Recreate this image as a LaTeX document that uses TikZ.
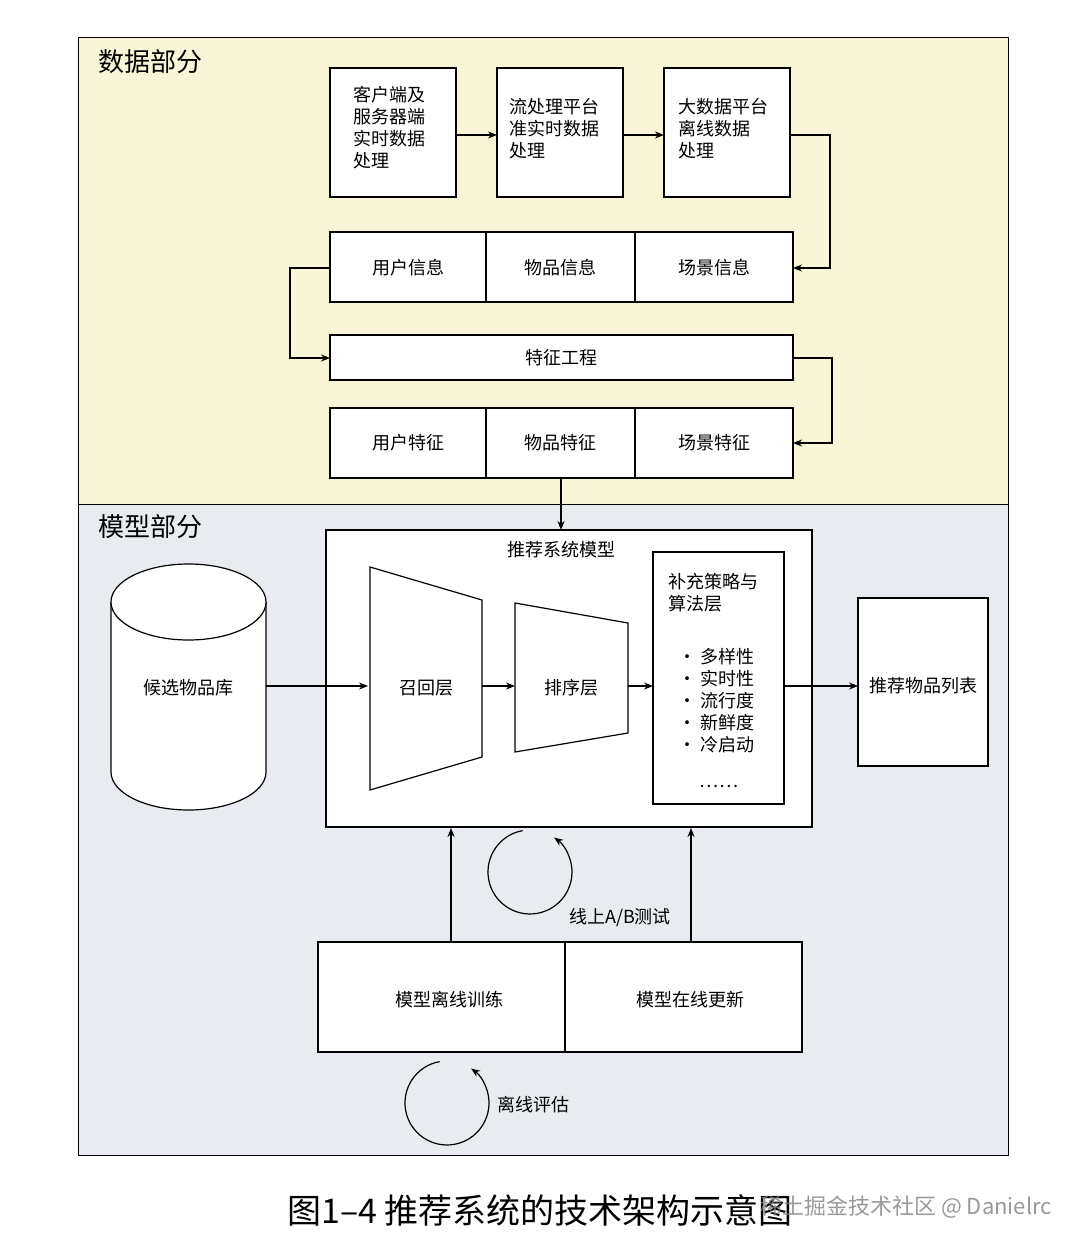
\documentclass[tikz,border=0pt]{standalone}
\usepackage{fontspec}
\setmainfont{Noto Sans CJK SC}
\usetikzlibrary{arrows.meta,shapes.geometric}
\begin{document}
\begin{tikzpicture}[x=1pt,y=-1pt,
  bx/.style={draw=black,line width=1.2pt,fill=white},
  lbl/.style={font=\fontsize{18}{22}\selectfont,inner sep=0pt},
  arr/.style={-{Stealth[length=9pt,width=7pt]},line width=1.2pt},
  ln/.style={line width=1.2pt}]
\useasboundingbox (0,0) rectangle (1080,1252);
\fill[white] (0,0) rectangle (1080,1252);
% sections
\draw[fill={rgb,255:red,248;green,246;blue,214},line width=1pt] (78,38) rectangle (1008,504);
\draw[fill={rgb,255:red,232;green,236;blue,240},line width=1pt] (78,504) rectangle (1008,1155);
\node[anchor=west,font=\fontsize{26}{30}\selectfont] (t1) at (95,62) {数据部分};
\node[anchor=west,font=\fontsize{26}{30}\selectfont] (t2) at (95,527) {模型部分};
% top boxes
\draw[bx] (330,68) rectangle (456,197);
\node[lbl,anchor=north west,align=left] (a1) at (353,86) {客户端及\\服务器端\\实时数据\\处理};
\draw[bx] (497,68) rectangle (623,197);
\node[lbl,anchor=north west,align=left] (a2) at (509,98) {流处理平台\\准实时数据\\处理};
\draw[bx] (664,68) rectangle (790,197);
\node[lbl,anchor=north west,align=left] (a3) at (678,98) {大数据平台\\离线数据\\处理};
\coordinate (b1r) at (456,135); \coordinate (b2l) at (497,135);
\coordinate (b2r) at (623,135); \coordinate (b3l) at (664,135);
\draw[arr] (b1r) -- (b2l);
\draw[arr] (b2r) -- (b3l);
% info row
\draw[bx] (330,232) rectangle (793,302);
\draw[ln] (486,232) -- (486,302); \draw[ln] (635,232) -- (635,302);
\node[lbl] (u1) at (408,268) {用户信息};
\node[lbl] (u2) at (560,268) {物品信息};
\node[lbl] (u3) at (714,268) {场景信息};
\coordinate (b3r) at (790,135); \coordinate (rowr) at (793,268);
\draw[arr] (b3r) -- (830,135) -- (830,268) -- (rowr);
% feature engineering
\draw[bx] (330,335) rectangle (793,380);
\node[lbl] (fe) at (561,358) {特征工程};
\coordinate (rowl) at (330,268); \coordinate (fel) at (330,358);
\draw[arr] (rowl) -- (290,268) -- (290,358) -- (fel);
% feature row
\draw[bx] (330,408) rectangle (793,478);
\draw[ln] (486,408) -- (486,478); \draw[ln] (635,408) -- (635,478);
\node[lbl] (f1) at (408,443) {用户特征};
\node[lbl] (f2) at (560,443) {物品特征};
\node[lbl] (f3) at (714,443) {场景特征};
\coordinate (fer) at (793,358); \coordinate (f3r) at (793,443);
\draw[arr] (fer) -- (832,358) -- (832,443) -- (f3r);
% model box
\draw[bx] (326,530) rectangle (812,827);
\coordinate (fb) at (561,478); \coordinate (mt) at (561,530);
\draw[arr] (fb) -- (mt);
\node[lbl] (mtitle) at (561,550) {推荐系统模型};
\draw[bx] (370,567) -- (482,600) -- (482,757) -- (370,790) -- cycle;
\node[lbl] (recall) at (426,688) {召回层};
\draw[bx] (515,603) -- (628,623) -- (628,733) -- (515,752) -- cycle;
\node[lbl] (sort) at (571,688) {排序层};
\draw[bx] (653,552) rectangle (784,804);
\node[lbl,anchor=north west,align=left] (sup) at (668,573) {补充策略与\\算法层};
\node[lbl,anchor=north west,align=left] (items) at (678,648) {· 多样性\\· 实时性\\· 流行度\\· 新鲜度\\· 冷启动};
\node[lbl] (dots) at (719,786) {……};
% cylinder
\draw[bx] (111,602) -- (111,772) arc[start angle=180,end angle=0,x radius=77.5,y radius=38] -- (266,602);
\draw[bx] (188.5,602) ellipse[x radius=77.5,y radius=38];
\node[lbl] (cand) at (188,688) {候选物品库};
% result
\draw[bx] (858,598) rectangle (988,766);
\node[lbl] (res) at (923,686) {推荐物品列表};
\draw[arr] (266,686) -- (368,686);
\draw[arr] (482,686) -- (515,686);
\draw[arr] (628,686) -- (653,686);
\draw[arr] (784,686) -- (858,686);
% bottom
\draw[bx] (318,942) rectangle (802,1052);
\draw[ln] (565,942) -- (565,1052);
\node[lbl] (off) at (449,1000) {模型离线训练};
\node[lbl] (on) at (690,1000) {模型在线更新};
\draw[arr] (451,942) -- (451,828);
\draw[arr] (691,942) -- (691,828);
\draw[arr] (522.7,830.6) arc[start angle=260,end angle=-55,radius=42];
\node[lbl] (ab) at (620,918) {线上A/B测试};
\draw[arr] (439.7,1061.6) arc[start angle=260,end angle=-55,radius=42];
\node[lbl] (ev) at (533,1105) {离线评估};
% caption
\node[font=\fontsize{34}{38}\selectfont] (cap) at (540,1210) {图1–4 推荐系统的技术架构示意图};
\node[font=\fontsize{22}{26}\selectfont,text=gray,opacity=0.8] (wm) at (906,1207) {稀土掘金技术社区 @ Danielrc};
\end{tikzpicture}
\end{document}
